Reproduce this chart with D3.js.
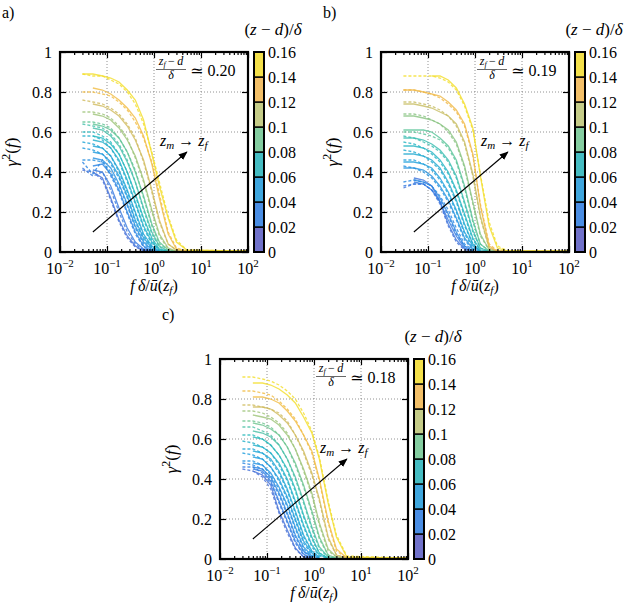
<!DOCTYPE html>
<html>
<head>
<meta charset="utf-8">
<script src="https://cdn.jsdelivr.net/npm/d3@7"></script>
<style>
  body { margin: 0; background: #fff; }
  svg text { font-family: "Liberation Serif", "DejaVu Serif", serif; fill: #000; }
</style>
</head>
<body>
<div id="chart"></div>
<script>
// shared frequency grid f*delta/u(z_f)
const freq = [0.03, 0.05, 0.08, 0.12, 0.18, 0.27, 0.4, 0.6, 0.9, 1.3, 2, 3, 5, 100];

const xTickExps = [-2, -1, 0, 1, 2];
const yTicks = [0, 0.2, 0.4, 0.6, 0.8, 1];
const cbTicks = [0, 0.02, 0.04, 0.06, 0.08, 0.1, 0.12, 0.14, 0.16];
// colour of each colorbar band, 0-0.02 ... 0.14-0.16
const cbColors = ["#7071c9", "#4a8de3", "#3fa6dd", "#45bcc2", "#84cda0", "#c5cc88", "#f2bf68", "#f4e04a"];
const lineColors = ["#5f62cc", "#2f80e4", "#1ea0dc", "#25b8bf", "#62c596", "#b3c571", "#f0b24e", "#f3de2c"];

// ---- panel a ----
const levelsA = [0.020, 0.026, 0.033, 0.040, 0.047, 0.054, 0.062, 0.070, 0.080, 0.090, 0.105, 0.120, 0.135, 0.150];
const solidA = [
  [null, 0.40, 0.37, 0.27, 0.16, 0.08, 0.03, 0.008, 0.004],
  [null, 0.41, 0.40, 0.33, 0.22, 0.12, 0.05, 0.015, 0.004],
  [null, 0.43, 0.44, 0.39, 0.31, 0.20, 0.10, 0.03, 0.005],
  [null, 0.47, 0.46, 0.42, 0.34, 0.24, 0.13, 0.05, 0.01, 0.004],
  [null, 0.50, 0.49, 0.45, 0.38, 0.28, 0.16, 0.07, 0.02, 0.004],
  [null, 0.53, 0.52, 0.48, 0.41, 0.31, 0.20, 0.09, 0.03, 0.005],
  [null, 0.56, 0.55, 0.52, 0.46, 0.36, 0.25, 0.13, 0.05, 0.01, 0.004],
  [null, 0.58, 0.57, 0.54, 0.49, 0.40, 0.29, 0.17, 0.07, 0.015, 0.004],
  [null, 0.62, 0.61, 0.58, 0.53, 0.45, 0.35, 0.22, 0.10, 0.03, 0.005],
  [null, 0.64, 0.63, 0.61, 0.57, 0.50, 0.40, 0.28, 0.14, 0.05, 0.01, 0.004],
  [null, 0.69, 0.68, 0.66, 0.62, 0.56, 0.48, 0.36, 0.21, 0.09, 0.02, 0.005, 0.004, 0.004],
  [null, 0.74, 0.73, 0.71, 0.68, 0.63, 0.56, 0.46, 0.31, 0.16, 0.04, 0.01, 0.004, 0.004],
  [null, 0.82, 0.81, 0.79, 0.76, 0.72, 0.67, 0.58, 0.44, 0.27, 0.09, 0.015, 0.004, 0.004],
  [0.89, 0.89, 0.88, 0.87, 0.85, 0.81, 0.76, 0.66, 0.49, 0.33, 0.17, 0.05, 0.01, 0.004]
];
const dashedA = [
  [0.41, 0.40, 0.36, 0.26, 0.15, 0.07, 0.025, 0.005],
  [0.42, 0.38, 0.40, 0.31, 0.20, 0.10, 0.04, 0.01, 0.004],
  [0.45, 0.39, 0.46, 0.38, 0.30, 0.19, 0.09, 0.025, 0.005],
  [0.46, 0.46, 0.45, 0.40, 0.33, 0.23, 0.12, 0.04, 0.01],
  [0.52, 0.51, 0.49, 0.44, 0.37, 0.27, 0.15, 0.06, 0.015, 0.004],
  [0.55, 0.54, 0.52, 0.48, 0.40, 0.30, 0.19, 0.08, 0.025, 0.005],
  [0.58, 0.58, 0.56, 0.52, 0.45, 0.35, 0.24, 0.12, 0.04, 0.01],
  [0.60, 0.60, 0.58, 0.55, 0.49, 0.40, 0.28, 0.16, 0.06, 0.01, 0.004],
  [0.64, 0.63, 0.62, 0.59, 0.54, 0.46, 0.35, 0.21, 0.09, 0.025, 0.005],
  [0.65, 0.65, 0.64, 0.62, 0.57, 0.50, 0.41, 0.27, 0.13, 0.04, 0.01, 0.004],
  [0.70, 0.70, 0.69, 0.67, 0.63, 0.57, 0.47, 0.35, 0.20, 0.08, 0.015, 0.005],
  [0.76, 0.75, 0.74, 0.72, 0.69, 0.64, 0.57, 0.45, 0.30, 0.15, 0.04, 0.01, 0.004],
  [0.80, 0.80, 0.79, 0.78, 0.75, 0.71, 0.65, 0.57, 0.45, 0.29, 0.10, 0.02, 0.005, 0.004],
  [0.89, 0.88, 0.88, 0.86, 0.84, 0.80, 0.74, 0.64, 0.50, 0.35, 0.18, 0.06, 0.01, 0.004]
];

// ---- panel b ----
const levelsB = [0.022, 0.028, 0.035, 0.042, 0.050, 0.058, 0.067, 0.077, 0.088, 0.100, 0.117, 0.133, 0.150];
const solidB = [
  [null, 0.37, 0.36, 0.33, 0.25, 0.14, 0.06, 0.015, 0.004],
  [null, 0.35, 0.34, 0.31, 0.25, 0.16, 0.08, 0.02, 0.004],
  [null, 0.36, 0.35, 0.33, 0.27, 0.19, 0.10, 0.03, 0.005],
  [0.42, 0.42, 0.41, 0.38, 0.33, 0.26, 0.17, 0.07, 0.015, 0.004],
  [0.45, 0.45, 0.44, 0.42, 0.37, 0.30, 0.21, 0.10, 0.03, 0.005],
  [0.49, 0.49, 0.48, 0.46, 0.42, 0.35, 0.26, 0.14, 0.04, 0.005],
  [0.53, 0.53, 0.52, 0.50, 0.46, 0.40, 0.31, 0.19, 0.07, 0.01, 0.004],
  [0.57, 0.57, 0.56, 0.54, 0.51, 0.46, 0.38, 0.25, 0.11, 0.02, 0.004],
  [0.61, 0.61, 0.61, 0.60, 0.57, 0.53, 0.46, 0.33, 0.16, 0.04, 0.005],
  [0.68, 0.68, 0.67, 0.66, 0.64, 0.61, 0.55, 0.43, 0.25, 0.09, 0.01, 0.004],
  [0.74, 0.74, 0.73, 0.72, 0.70, 0.68, 0.64, 0.55, 0.39, 0.18, 0.02, 0.005, 0.004, 0.004],
  [0.81, 0.81, 0.80, 0.79, 0.78, 0.75, 0.71, 0.64, 0.49, 0.23, 0.03, 0.005, 0.004, 0.004],
  [null, null, null, 0.88, 0.88, 0.86, 0.82, 0.74, 0.62, 0.38, 0.13, 0.02, 0.005, 0.004]
];
const dashedB = [
  [0.32, 0.34, 0.34, 0.31, 0.24, 0.13, 0.05, 0.01, 0.004],
  [0.33, 0.34, 0.34, 0.31, 0.26, 0.18, 0.09, 0.03, 0.005],
  [0.35, 0.36, 0.35, 0.33, 0.28, 0.21, 0.12, 0.04, 0.01],
  [0.43, 0.42, 0.40, 0.37, 0.32, 0.25, 0.16, 0.06, 0.01],
  [0.46, 0.46, 0.44, 0.41, 0.36, 0.29, 0.20, 0.09, 0.02, 0.004],
  [0.51, 0.50, 0.48, 0.45, 0.41, 0.34, 0.25, 0.13, 0.04, 0.005],
  [0.55, 0.54, 0.52, 0.49, 0.45, 0.39, 0.30, 0.18, 0.06, 0.01],
  [0.58, 0.57, 0.55, 0.53, 0.50, 0.45, 0.37, 0.24, 0.10, 0.02, 0.004],
  [0.60, 0.60, 0.59, 0.58, 0.56, 0.52, 0.45, 0.32, 0.15, 0.04, 0.005],
  [0.69, 0.69, 0.68, 0.66, 0.64, 0.60, 0.54, 0.42, 0.24, 0.08, 0.01, 0.004],
  [0.75, 0.75, 0.74, 0.73, 0.71, 0.68, 0.63, 0.54, 0.38, 0.17, 0.02, 0.005],
  [0.81, 0.81, 0.80, 0.79, 0.77, 0.74, 0.70, 0.63, 0.48, 0.24, 0.04, 0.005, 0.004],
  [0.88, 0.88, 0.88, 0.88, 0.87, 0.85, 0.81, 0.73, 0.61, 0.39, 0.15, 0.03, 0.005, 0.004]
];

// ---- panel c ----
const levelsC = [0.020, 0.027, 0.034, 0.041, 0.048, 0.055, 0.063, 0.072, 0.082, 0.093, 0.105, 0.120, 0.135, 0.150];
const solidC = [
  [null, 0.44, 0.42, 0.37, 0.24, 0.145, 0.055, 0.01, 0.004],
  [null, 0.45, 0.44, 0.39, 0.29, 0.19, 0.09, 0.025, 0.005],
  [null, 0.46, 0.45, 0.41, 0.33, 0.23, 0.12, 0.04, 0.01],
  [null, 0.48, 0.47, 0.43, 0.36, 0.27, 0.16, 0.06, 0.015, 0.004],
  [null, 0.51, 0.50, 0.46, 0.40, 0.31, 0.20, 0.09, 0.03, 0.005],
  [null, 0.54, 0.53, 0.50, 0.44, 0.35, 0.24, 0.12, 0.04, 0.01],
  [null, 0.57, 0.56, 0.53, 0.48, 0.40, 0.29, 0.17, 0.07, 0.02, 0.004],
  [null, 0.61, 0.60, 0.57, 0.52, 0.45, 0.35, 0.22, 0.11, 0.03, 0.005],
  [null, 0.64, 0.63, 0.61, 0.57, 0.50, 0.41, 0.29, 0.16, 0.06, 0.01, 0.004],
  [null, 0.68, 0.67, 0.65, 0.62, 0.56, 0.48, 0.37, 0.24, 0.11, 0.02, 0.005],
  [null, 0.72, 0.71, 0.70, 0.67, 0.62, 0.55, 0.45, 0.33, 0.18, 0.05, 0.01, 0.004, 0.004],
  [null, 0.76, 0.76, 0.75, 0.72, 0.68, 0.62, 0.54, 0.43, 0.30, 0.11, 0.02, 0.004, 0.004],
  [null, 0.81, 0.81, 0.80, 0.78, 0.74, 0.69, 0.62, 0.54, 0.40, 0.19, 0.05, 0.005, 0.004],
  [null, 0.88, 0.88, 0.87, 0.85, 0.82, 0.78, 0.71, 0.63, 0.50, 0.28, 0.11, 0.01, 0.004]
];
const dashedC = [
  [0.45, 0.44, 0.41, 0.35, 0.23, 0.13, 0.05, 0.01, 0.004],
  [0.46, 0.46, 0.43, 0.38, 0.28, 0.18, 0.08, 0.02, 0.005],
  [0.48, 0.47, 0.45, 0.40, 0.32, 0.22, 0.11, 0.035, 0.01],
  [0.49, 0.49, 0.47, 0.42, 0.35, 0.26, 0.15, 0.05, 0.01],
  [0.53, 0.52, 0.50, 0.46, 0.39, 0.30, 0.19, 0.08, 0.02, 0.005],
  [0.55, 0.55, 0.53, 0.49, 0.43, 0.34, 0.23, 0.11, 0.035, 0.01],
  [0.59, 0.58, 0.56, 0.53, 0.47, 0.39, 0.28, 0.16, 0.06, 0.015, 0.004],
  [0.62, 0.62, 0.60, 0.57, 0.52, 0.44, 0.34, 0.21, 0.10, 0.03, 0.005],
  [0.66, 0.66, 0.64, 0.62, 0.57, 0.50, 0.40, 0.28, 0.15, 0.05, 0.01, 0.004],
  [0.69, 0.69, 0.68, 0.66, 0.62, 0.56, 0.47, 0.36, 0.23, 0.10, 0.02, 0.005],
  [0.74, 0.74, 0.73, 0.71, 0.68, 0.63, 0.55, 0.44, 0.32, 0.17, 0.04, 0.01, 0.004],
  [0.77, 0.77, 0.76, 0.75, 0.73, 0.69, 0.62, 0.53, 0.42, 0.29, 0.10, 0.02, 0.004, 0.004],
  [0.84, 0.84, 0.83, 0.82, 0.79, 0.75, 0.70, 0.62, 0.53, 0.39, 0.18, 0.04, 0.005, 0.004],
  [0.91, 0.91, 0.90, 0.89, 0.87, 0.84, 0.80, 0.73, 0.64, 0.51, 0.29, 0.12, 0.015, 0.004]
];

// arrow z_m -> z_f, in data units
const arrowFrom = [0.05, 0.1];
const arrowTo = [5, 0.5];

const W = 188, H = 200;
const FONT = "'Liberation Serif', 'DejaVu Serif', serif";
const panels = [
  { id: "a", label: "a)", lx: 2, ly: 18, x0: 60, y0: 52, levels: levelsA, solid: solidA, dashed: dashedA, ratio: "0.20" },
  { id: "b", label: "b)", lx: 323, ly: 18, x0: 381, y0: 52, levels: levelsB, solid: solidB, dashed: dashedB, ratio: "0.19" },
  { id: "c", label: "c)", lx: 162, ly: 320, x0: 220, y0: 359, levels: levelsC, solid: solidC, dashed: dashedC, ratio: "0.18" }
];

const svg = d3.select("#chart").append("svg")
  .attr("width", 626)
  .attr("height", 615)
  .attr("font-family", FONT);

svg.append("defs").append("marker")
  .attr("id", "head")
  .attr("viewBox", "0 0 10 10")
  .attr("refX", 9).attr("refY", 5)
  .attr("markerWidth", 9).attr("markerHeight", 9)
  .attr("markerUnits", "userSpaceOnUse")
  .attr("orient", "auto")
  .append("path").attr("d", "M0,1 L10,5 L0,9 z").attr("fill", "#000");

// color of a curve from its height (z-d)/delta
const lineColor = d3.scaleLinear()
  .domain(cbColors.map((c, i) => 0.01 + 0.02 * i))
  .range(lineColors)
  .clamp(true);

panels.forEach(drawPanel);

function drawPanel(p) {
  const x = d3.scaleLog().domain([0.01, 100]).range([p.x0, p.x0 + W]);
  const y = d3.scaleLinear().domain([0, 1]).range([p.y0 + H, p.y0]);
  const g = svg.append("g");

  svg.select("defs").append("clipPath").attr("id", "clip" + p.id)
    .append("rect").attr("x", p.x0).attr("y", p.y0).attr("width", W).attr("height", H);

  // dotted grid
  const gridX = xTickExps.slice(1, -1).map(e => Math.pow(10, e));
  const gridY = yTicks.slice(1, -1);
  g.selectAll(".gx").data(gridX).join("line")
    .attr("x1", d => x(d)).attr("x2", d => x(d))
    .attr("y1", p.y0).attr("y2", p.y0 + H)
    .attr("stroke", "#777").attr("stroke-width", 0.8).attr("stroke-dasharray", "1,2");
  g.selectAll(".gy").data(gridY).join("line")
    .attr("x1", p.x0).attr("x2", p.x0 + W)
    .attr("y1", d => y(d)).attr("y2", d => y(d))
    .attr("stroke", "#777").attr("stroke-width", 0.8).attr("stroke-dasharray", "1,2");

  // curves, dashed and solid for every height, low to high
  const curves = [];
  p.levels.forEach((lv, i) => {
    curves.push({ lv, vals: p.dashed[i], dash: true });
    curves.push({ lv, vals: p.solid[i], dash: false });
  });
  const line = d3.line()
    .defined(d => d[1] != null)
    .x(d => x(d[0]))
    .y(d => y(d[1]));
  g.append("g").attr("clip-path", `url(#clip${p.id})`)
    .selectAll("path").data(curves).join("path")
    .attr("d", c => line(c.vals.map((v, k) => [freq[k], v])))
    .attr("fill", "none")
    .attr("stroke", c => lineColor(c.lv))
    .attr("stroke-opacity", 0.82)
    .attr("stroke-width", 1.3)
    .attr("stroke-dasharray", c => c.dash ? "3,2" : null);

  // ticks (inward, mirrored)
  const minors = [];
  xTickExps.slice(0, -1).forEach(e => { for (let k = 2; k < 10; k++) minors.push(k * Math.pow(10, e)); });
  const majors = xTickExps.map(e => Math.pow(10, e));
  const tickStyle = s => {
    s.attr("font-family", FONT);
    s.select(".domain").remove();
    s.selectAll("line").attr("stroke", "#000").attr("stroke-width", 1.2);
  };
  g.append("g").attr("transform", `translate(0,${p.y0 + H})`)
    .call(d3.axisBottom(x).tickValues(majors).tickSize(-6).tickFormat("")).call(tickStyle);
  g.append("g").attr("transform", `translate(0,${p.y0 + H})`)
    .call(d3.axisBottom(x).tickValues(minors).tickSize(-3).tickFormat("")).call(tickStyle);
  g.append("g").attr("transform", `translate(0,${p.y0})`)
    .call(d3.axisTop(x).tickValues(majors).tickSize(-6).tickFormat("")).call(tickStyle);
  g.append("g").attr("transform", `translate(0,${p.y0})`)
    .call(d3.axisTop(x).tickValues(minors).tickSize(-3).tickFormat("")).call(tickStyle);
  g.append("g").attr("transform", `translate(${p.x0 + W},0)`)
    .call(d3.axisRight(y).tickValues(yTicks).tickSize(-6).tickFormat("")).call(tickStyle);
  const yAxis = g.append("g").attr("transform", `translate(${p.x0},0)`)
    .call(d3.axisLeft(y).tickValues(yTicks).tickSize(-6).tickPadding(8).tickFormat(d => String(d)))
    .call(tickStyle);
  yAxis.selectAll("text").attr("font-size", 16).attr("fill", "#000");

  // x tick labels 10^e
  const xl = g.selectAll(".xl").data(xTickExps).join("text")
    .attr("x", e => x(Math.pow(10, e)))
    .attr("y", p.y0 + H + 22)
    .attr("text-anchor", "middle")
    .attr("font-size", 16);
  xl.append("tspan").text("10");
  xl.append("tspan").attr("dy", -7).attr("font-size", 11).text(e => String(e).replace("-", "\u2212"));

  // plot border
  g.append("rect").attr("x", p.x0).attr("y", p.y0).attr("width", W).attr("height", H)
    .attr("fill", "none").attr("stroke", "#000").attr("stroke-width", 2.2);

  // axis labels
  const xLab = g.append("text")
    .attr("x", p.x0 + W / 2).attr("y", p.y0 + H + 39)
    .attr("text-anchor", "middle").attr("font-size", 16);
  xLab.append("tspan").attr("font-style", "italic").text("f\u2009\u03b4");
  xLab.append("tspan").text("/");
  xLab.append("tspan").attr("font-style", "italic").text("\u016b");
  xLab.append("tspan").text("(");
  xLab.append("tspan").attr("font-style", "italic").text("z");
  xLab.append("tspan").attr("font-style", "italic").attr("font-size", 11).attr("dy", 3).text("f");
  xLab.append("tspan").attr("dy", -3).text(")");

  const yLab = g.append("text")
    .attr("transform", `translate(${p.x0 - 43},${p.y0 + H / 2}) rotate(-90)`)
    .attr("text-anchor", "middle").attr("font-size", 17);
  yLab.append("tspan").attr("font-style", "italic").text("\u03b3");
  yLab.append("tspan").attr("font-size", 12).attr("dy", -7).text("2");
  yLab.append("tspan").attr("dy", 7).text("(");
  yLab.append("tspan").attr("font-style", "italic").text("f");
  yLab.append("tspan").text(")");

  // panel letter
  g.append("text").attr("x", p.lx).attr("y", p.ly).attr("font-size", 16).text(p.label);

  // arrow and z_m -> z_f
  g.append("line")
    .attr("x1", x(arrowFrom[0])).attr("y1", y(arrowFrom[1]))
    .attr("x2", x(arrowTo[0])).attr("y2", y(arrowTo[1]))
    .attr("stroke", "#000").attr("stroke-width", 1.1)
    .attr("marker-end", "url(#head)");
  const zt = g.append("text").attr("x", p.x0 + 100).attr("y", p.y0 + 94).attr("font-size", 16);
  zt.append("tspan").attr("font-style", "italic").text("z");
  zt.append("tspan").attr("font-style", "italic").attr("font-size", 11).attr("dy", 3).text("m");
  zt.append("tspan").attr("dy", -3).text(" \u2192 ");
  zt.append("tspan").attr("font-style", "italic").text("z");
  zt.append("tspan").attr("font-style", "italic").attr("font-size", 11).attr("dy", 3).text("f");

  // (z_f - d)/delta ~ ratio
  const fx = p.x0 + 111;
  const num = g.append("text").attr("x", fx).attr("y", p.y0 + 13)
    .attr("text-anchor", "middle").attr("font-size", 12);
  num.append("tspan").attr("font-style", "italic").text("z");
  num.append("tspan").attr("font-style", "italic").attr("font-size", 8).attr("dy", 2).text("f");
  num.append("tspan").attr("dy", -2).text("\u2009\u2212\u2009");
  num.append("tspan").attr("font-style", "italic").text("d");
  g.append("line").attr("x1", fx - 15).attr("x2", fx + 15)
    .attr("y1", p.y0 + 17.5).attr("y2", p.y0 + 17.5)
    .attr("stroke", "#000").attr("stroke-width", 0.6);
  g.append("text").attr("x", fx).attr("y", p.y0 + 27)
    .attr("text-anchor", "middle").attr("font-size", 12).attr("font-style", "italic").text("\u03b4");
  g.append("text").attr("x", fx + 19).attr("y", p.y0 + 24)
    .attr("font-size", 16).text("\u2243 " + p.ratio);

  // colorbar
  const cb = d3.scaleLinear().domain([0, 0.16]).range([p.y0 + H, p.y0]);
  const cx = p.x0 + W + 6, cw = 10;
  g.selectAll(".seg").data(cbColors).join("rect")
    .attr("x", cx)
    .attr("y", (c, i) => cb(cbTicks[i + 1]))
    .attr("width", cw)
    .attr("height", (c, i) => cb(cbTicks[i]) - cb(cbTicks[i + 1]))
    .attr("fill", c => c)
    .attr("stroke", "#000").attr("stroke-width", 1.4);
  g.append("rect").attr("x", cx).attr("y", p.y0).attr("width", cw).attr("height", H)
    .attr("fill", "none").attr("stroke", "#000").attr("stroke-width", 2);
  g.selectAll(".cbl").data(cbTicks).join("text")
    .attr("x", cx + cw + 4)
    .attr("y", d => cb(d))
    .attr("dy", "0.35em")
    .attr("font-size", 16)
    .text(d => String(d));
  const ct = g.append("text").attr("x", cx + cw / 2 + 14).attr("y", p.y0 - 17)
    .attr("text-anchor", "middle").attr("font-size", 17);
  ct.append("tspan").text("(");
  ct.append("tspan").attr("font-style", "italic").text("z");
  ct.append("tspan").text(" \u2212 ");
  ct.append("tspan").attr("font-style", "italic").text("d");
  ct.append("tspan").text(")/");
  ct.append("tspan").attr("font-style", "italic").text("\u03b4");
}
</script>
</body>
</html>
